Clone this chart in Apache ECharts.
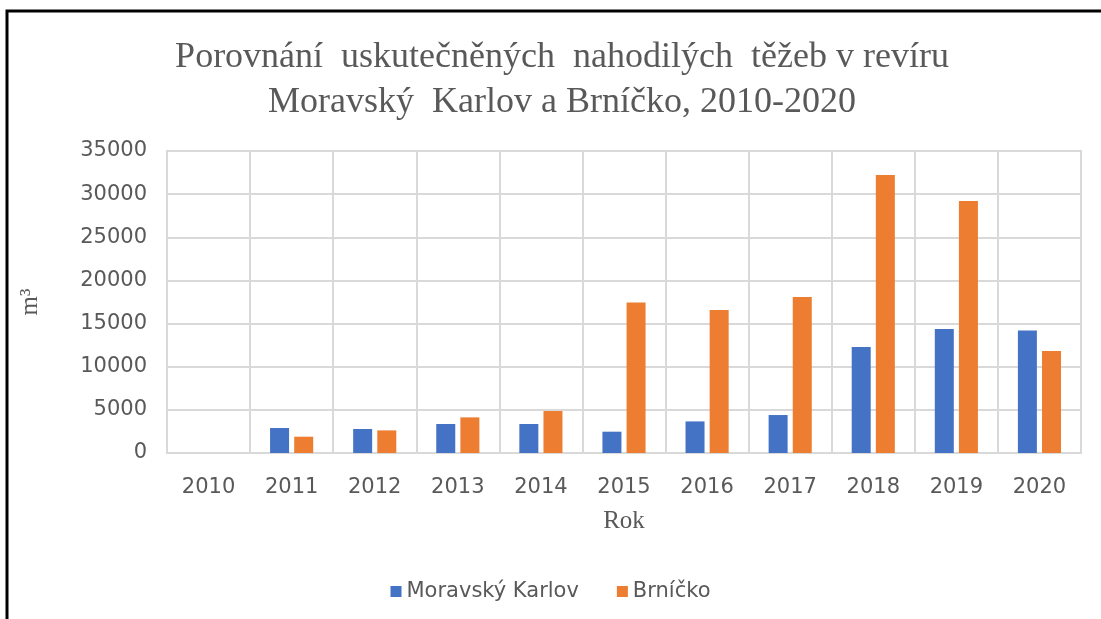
<!DOCTYPE html>
<html>
<head>
<meta charset="utf-8">
<script src="https://cdn.jsdelivr.net/npm/echarts@6/dist/echarts.min.js"></script>
<style>
  html, body { margin: 0; padding: 0; background: #fff; }
  #chart { width: 1101px; height: 619px; }
</style>
</head>
<body>
<div id="chart"></div>
<script>
// data
var years = ['2010', '2011', '2012', '2013', '2014', '2015', '2016', '2017', '2018', '2019', '2020'];
var moravskyKarlov = [0, 2900, 2780, 3360, 3360, 2470, 3660, 4400, 12280, 14370, 14210];
var brnicko = [0, 1890, 2620, 4130, 4870, 17450, 16570, 18080, 32210, 29200, 11820];
var seriesNames = ['Moravský Karlov', 'Brníčko'];

var textGrey = '#595959';
var gridGrey = '#d9d9d9';
var sans = 'DejaVu Sans';
var serif = 'Liberation Serif';

var myChart = echarts.init(document.getElementById('chart'));

var option = {
  backgroundColor: '#fff',
  animation: false,
  title: {
    text: 'Porovnání  uskutečněných  nahodilých  těžeb v revíru\nMoravský  Karlov a Brníčko, 2010-2020',
    left: 557,
    top: 30,
    textAlign: 'center',
    textStyle: {
      fontFamily: serif,
      fontWeight: 'normal',
      fontSize: 36,
      lineHeight: 45,
      color: textGrey
    }
  },
  legend: {
    data: seriesNames,
    top: 576,
    left: 'center',
    itemWidth: 11,
    itemHeight: 11,
    itemGap: 38,
    icon: 'rect',
    textStyle: { fontFamily: sans, fontSize: 21, color: textGrey }
  },
  grid: {
    left: 167,
    top: 151,
    right: 20,
    bottom: 166,
    show: true,
    borderColor: gridGrey,
    borderWidth: 2
  },
  xAxis: {
    type: 'category',
    data: years,
    name: 'Rok',
    nameLocation: 'middle',
    nameGap: 56,
    nameTextStyle: { fontFamily: serif, fontSize: 25, color: textGrey },
    axisLine: { lineStyle: { color: gridGrey, width: 2 } },
    axisTick: { show: false },
    axisLabel: { fontFamily: sans, fontSize: 21, color: textGrey, margin: 24 },
    splitLine: { show: true, lineStyle: { color: gridGrey, width: 2 } }
  },
  yAxis: {
    type: 'value',
    min: 0,
    max: 35000,
    interval: 5000,
    name: 'm³',
    nameLocation: 'middle',
    nameRotate: 90,
    nameGap: 124,
    nameTextStyle: { fontFamily: serif, fontSize: 25, color: textGrey },
    axisLine: { show: false },
    axisTick: { show: false },
    axisLabel: {
      fontFamily: sans,
      fontSize: 21,
      color: textGrey,
      margin: 20,
      formatter: function (v) { return String(v); }
    },
    splitLine: { lineStyle: { color: gridGrey, width: 2 } }
  },
  series: [
    {
      name: seriesNames[0],
      type: 'bar',
      barWidth: 19,
      barGap: '27%',
      itemStyle: { color: '#4472C4' },
      data: moravskyKarlov
    },
    {
      name: seriesNames[1],
      type: 'bar',
      barWidth: 19,
      barGap: '27%',
      itemStyle: { color: '#ED7D31' },
      data: brnicko
    }
  ],
  graphic: [
    {
      // frame of the chart, cut off at right and bottom
      type: 'rect',
      silent: true,
      shape: { x: 7, y: 11, width: 1200, height: 700 },
      style: { fill: null, stroke: '#000', lineWidth: 3 }
    }
  ]
};

myChart.setOption(option, true);
</script>
</body>
</html>
